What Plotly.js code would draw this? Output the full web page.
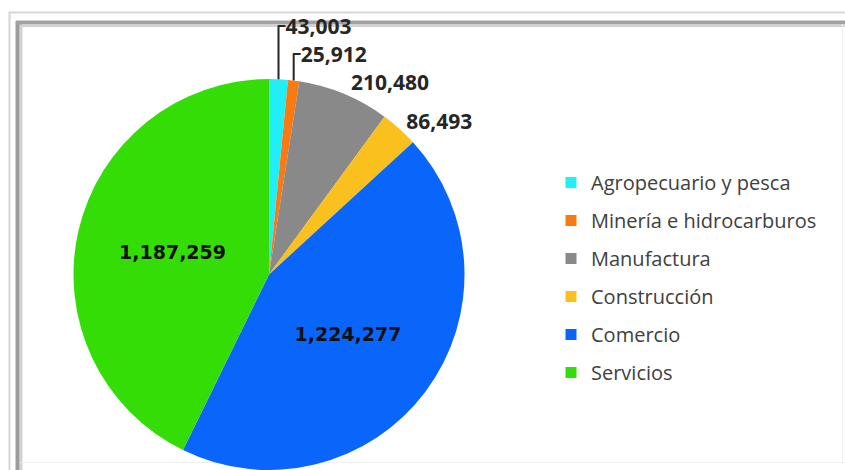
<!DOCTYPE html>
<html><head><meta charset="utf-8">
<script src="https://cdn.plot.ly/plotly-3.0.1.min.js"></script>
<style>html,body{margin:0;padding:0;background:#fff;} #chart{width:845px;height:470px;}</style>
</head><body><div id="chart"></div>
<script>
const categories = ["Agropecuario y pesca", "Minería e hidrocarburos", "Manufactura", "Construcción", "Comercio", "Servicios"];
const values = [43003, 25912, 210480, 86493, 1224277, 1187259];

const sliceColors = ["#22EEF7", "#F97A12", "#898989", "#FAC01E", "#0A66FA", "#34DD06"];
const W = 845, H = 470;
const px = v => v / W, py = v => 1 - v / H;

const pie = {
  type: 'pie',
  labels: categories,
  values: values,
  sort: false,
  direction: 'clockwise',
  rotation: 0,
  marker: {colors: sliceColors, line: {width: 0}},
  texttemplate: '%{value:,}',
  textposition: ['outside', 'outside', 'outside', 'outside', 'inside', 'inside'],
  insidetextorientation: 'horizontal',
  outsidetextfont: {family: 'Open Sans', size: 21, color: '#262626', weight: 700},
  insidetextfont: {family: 'DejaVu Sans', size: 19, color: '#111111', weight: 700},
  domain: {x: [px(269 - 196), px(269 + 196)], y: [py(275 + 196), py(275 - 196)]},
  showlegend: false,
  hoverinfo: 'none'
};

const legendTraces = categories.map((c, i) => ({
  type: 'scatter', x: [null], y: [null], mode: 'markers', name: c,
  legendgroup: 'g' + i, showlegend: true, hoverinfo: 'skip',
  marker: {symbol: 'square', size: 11, color: sliceColors[i]}
}));

function vline(x, y0, y1, color, w) {
  return {type: 'line', xref: 'paper', yref: 'paper', x0: px(x), x1: px(x), y0: py(y0), y1: py(y1), line: {color: color, width: w}, layer: 'below'};
}
function hline(y, x0, x1, color, w) {
  return {type: 'line', xref: 'paper', yref: 'paper', x0: px(x0), x1: px(x1), y0: py(y), y1: py(y), line: {color: color, width: w}, layer: 'below'};
}

const layout = {
  width: W, height: H,
  margin: {l: 0, r: 0, t: 0, b: 0},
  paper_bgcolor: '#ffffff', plot_bgcolor: 'rgba(0,0,0,0)',
  xaxis: {visible: false}, yaxis: {visible: false},
  showlegend: true,
  legend: {x: px(551), xanchor: 'left', y: py(163), yanchor: 'top',
           font: {family: 'Open Sans', size: 20, color: '#404040'},
           tracegroupgap: 9, bgcolor: 'rgba(0,0,0,0)', borderwidth: 0},
  shapes: [
    vline(9.5, 12, 470, '#d6d6d6', 2),
    hline(12.5, 9, 845, '#d6d6d6', 2),
    vline(21, 24, 470, '#d2d2d2', 3),
    hline(26, 19, 845, '#d2d2d2', 2),
    vline(17.5, 21, 470, '#9c9c9c', 4),
    hline(22.5, 16, 845, '#a2a2a2', 4),
    hline(462.5, 20, 845, '#efefef', 1),
    vline(842.5, 24, 462, '#efefef', 1)
  ]
};

Plotly.newPlot('chart', [pie].concat(legendTraces), layout, {displayModeBar: false, staticPlot: true});
</script>
</body></html>
